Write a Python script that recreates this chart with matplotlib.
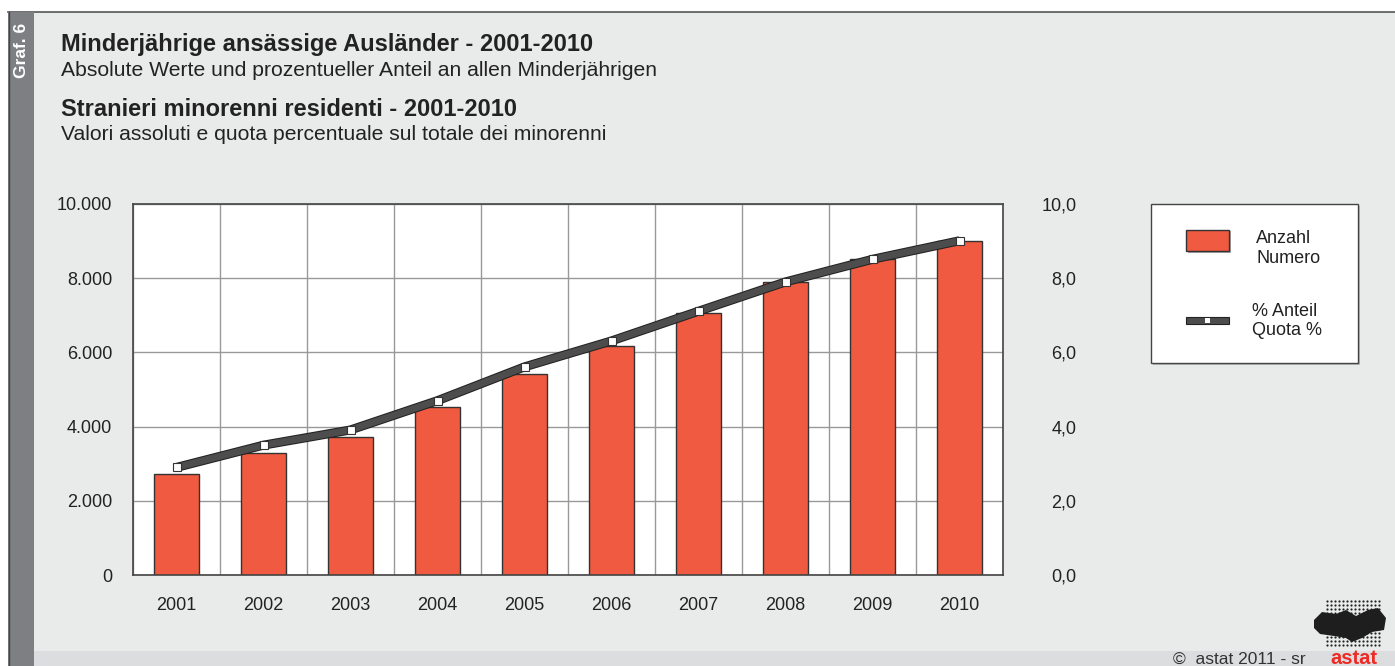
import numpy as np
import matplotlib
matplotlib.use('Agg')
import matplotlib.pyplot as plt
from matplotlib.patches import Rectangle, Polygon
from matplotlib.lines import Line2D
import matplotlib.patheffects as pe

plt.rcParams['font.family'] = ['Liberation Sans', 'DejaVu Sans']

# Daten
jahre = ['2001', '2002', '2003', '2004', '2005', '2006', '2007', '2008', '2009', '2010']
anzahl = [2716, 3283, 3715, 4541, 5430, 6177, 7060, 7896, 8524, 9002]
anteil = [2.9, 3.5, 3.91, 4.7, 5.61, 6.31, 7.11, 7.9, 8.51, 9.01]
y_ticks = [0, 2000, 4000, 6000, 8000, 10000]
y_labels = ['0', '2.000', '4.000', '6.000', '8.000', '10.000']
y2_labels = ['0,0', '2,0', '4,0', '6,0', '8,0', '10,0']

W, H = 1395, 666
BG = '#E9EBEA'
RED = '#F05A40'
DARK = '#333333'

def fx(px):
    return px / W

def fy(py):
    return 1 - py / H

fig = plt.figure(figsize=(W / 100, H / 100), dpi=100, facecolor='white')

# Hintergrund, Rahmen, Seitenleiste
fig.add_artist(Rectangle((fx(8), 0), 1 - fx(8), fy(12), transform=fig.transFigure,
                         facecolor=BG, edgecolor='none', zorder=0))
fig.add_artist(Line2D([fx(8), 1], [fy(12), fy(12)], color='#555555', lw=1.2, zorder=1))
fig.add_artist(Rectangle((fx(8), 0), fx(26), fy(12), transform=fig.transFigure,
                         facecolor='#7E7F83', edgecolor='none', zorder=1))
fig.add_artist(Line2D([fx(8.5), fx(8.5)], [0, fy(12)], color='#444444', lw=1.0, zorder=2))
fig.add_artist(Rectangle((fx(34), 0), 1 - fx(34), fy(651), transform=fig.transFigure,
                         facecolor='#DCDDDF', edgecolor='none', zorder=1))
fig.text(fx(21), fy(50), 'Graf. 6', rotation=90, color='white', fontsize=12.5,
         fontweight='bold', ha='center', va='center')

# Titel
fig.text(fx(61), fy(44), 'Minderjährige ansässige Ausländer - 2001-2010',
         fontsize=17, fontweight='bold', color='#222222', va='center')
fig.text(fx(61), fy(70), 'Absolute Werte und prozentueller Anteil an allen Minderjährigen',
         fontsize=15.2, color='#222222', va='center')
fig.text(fx(61), fy(109), 'Stranieri minorenni residenti - 2001-2010',
         fontsize=17, fontweight='bold', color='#222222', va='center')
fig.text(fx(61), fy(135), 'Valori assoluti e quota percentuale sul totale dei minorenni',
         fontsize=15.2, color='#222222', va='center')

# Diagramm
ax = fig.add_axes([fx(133), fy(575), fx(1003) - fx(133), fy(204) - fy(575)])
ax.set_facecolor('white')
x = np.arange(len(jahre))
ax.bar(x, anzahl, width=0.51, color=RED, edgecolor=DARK, linewidth=1.0, zorder=3)
ax.set_xlim(-0.5, len(jahre) - 0.5)
ax.set_ylim(0, 10000)
ax.set_yticks(y_ticks)
ax.set_yticklabels(y_labels)
ax.set_xticks(x)
ax.set_xticklabels(jahre)
ax.set_xticks(np.arange(len(jahre) + 1) - 0.5, minor=True)
ax.grid(True, axis='y', color='#999999', lw=1.0, zorder=0)
ax.grid(True, axis='x', which='minor', color='#999999', lw=1.0, zorder=0)
ax.tick_params(axis='both', which='both', length=0, labelsize=13, colors='#222222')
ax.tick_params(axis='y', pad=15)
ax.tick_params(axis='x', pad=16)
for s in ax.spines.values():
    s.set_color('#444444')
    s.set_linewidth(1.2)
    s.set_zorder(5)

ax2 = ax.twinx()
ax2.set_ylim(0, 10)
ax2.set_yticks([t / 1000 for t in y_ticks])
ax2.set_yticklabels(y2_labels)
ax2.tick_params(axis='y', length=0, labelsize=13, colors='#222222', pad=53)
for lab in ax2.get_yticklabels():
    lab.set_horizontalalignment('right')
ax2.plot(x, anteil, color='#4D4D4D', lw=5.0, solid_capstyle='butt', zorder=4,
         path_effects=[pe.Stroke(linewidth=6.5, foreground='#222222'), pe.Normal()])
ax2.plot(x, anteil, linestyle='none', marker='s', markersize=5.5, markerfacecolor='white',
         markeredgecolor='#333333', markeredgewidth=0.8, zorder=5)
for s in ax2.spines.values():
    s.set_visible(False)

# Legende
fig.add_artist(Rectangle((fx(1153), fy(365)), fx(207), fy(206) - fy(365),
                         transform=fig.transFigure, facecolor='#BBBBBB', edgecolor='none', zorder=2))
fig.add_artist(Rectangle((fx(1151), fy(363)), fx(207), fy(204) - fy(363),
                         transform=fig.transFigure, facecolor='white', edgecolor='#444444',
                         lw=1.0, zorder=3))
fig.add_artist(Rectangle((fx(1188), fy(253)), fx(43), fy(231) - fy(253),
                         transform=fig.transFigure, facecolor='#AAAAAA', edgecolor='none', zorder=4))
fig.add_artist(Rectangle((fx(1186), fy(251)), fx(43), fy(230) - fy(251),
                         transform=fig.transFigure, facecolor=RED, edgecolor=DARK, lw=1.0, zorder=5))
fig.text(fx(1256), fy(238), 'Anzahl', fontsize=13, color='#222222', va='center', zorder=6)
fig.text(fx(1256), fy(259), 'Numero', fontsize=13, color='#222222', va='center', zorder=6)
fig.add_artist(Rectangle((fx(1186), fy(324)), fx(43), fy(317) - fy(324),
                         transform=fig.transFigure, facecolor='#4D4D4D', edgecolor='#222222',
                         lw=0.8, zorder=5))
fig.add_artist(Rectangle((fx(1205), fy(323)), fx(5), fy(318) - fy(323),
                         transform=fig.transFigure, facecolor='white', edgecolor='none', zorder=6))
fig.text(fx(1252), fy(311), '% Anteil', fontsize=13, color='#222222', va='center', zorder=6)
fig.text(fx(1252), fy(331), 'Quota %', fontsize=13, color='#222222', va='center', zorder=6)

# Fusszeile
fig.text(fx(1306), fy(659), '©  astat 2011 - sr', fontsize=12.5, color='#333333',
         ha='right', va='center')
fig.text(fx(1354), fy(658), 'astat', fontsize=14.5, fontweight='bold', color='#EE2A24',
         ha='center', va='center')

# Logo (Punktraster)
lx = fig.add_axes([fx(1312), fy(650), fx(76), fy(598) - fy(650)])
lx.set_xlim(0, 76)
lx.set_ylim(52, 0)
lx.axis('off')
gx, gy = np.meshgrid(np.arange(15, 70, 4), np.arange(3, 50, 4))
lx.scatter(gx.ravel(), gy.ravel(), s=2.5, color='#222222', linewidths=0)
lx.add_patch(Polygon([[2, 22], [10, 14], [24, 16], [34, 12], [44, 18], [56, 12], [66, 10],
                      [74, 20], [72, 32], [60, 34], [50, 40], [40, 44], [34, 40], [22, 38],
                      [8, 36], [2, 30]], closed=True, facecolor='#1E1E1E', edgecolor='none'))

plt.savefig('out.png', dpi=100, facecolor=fig.get_facecolor())
